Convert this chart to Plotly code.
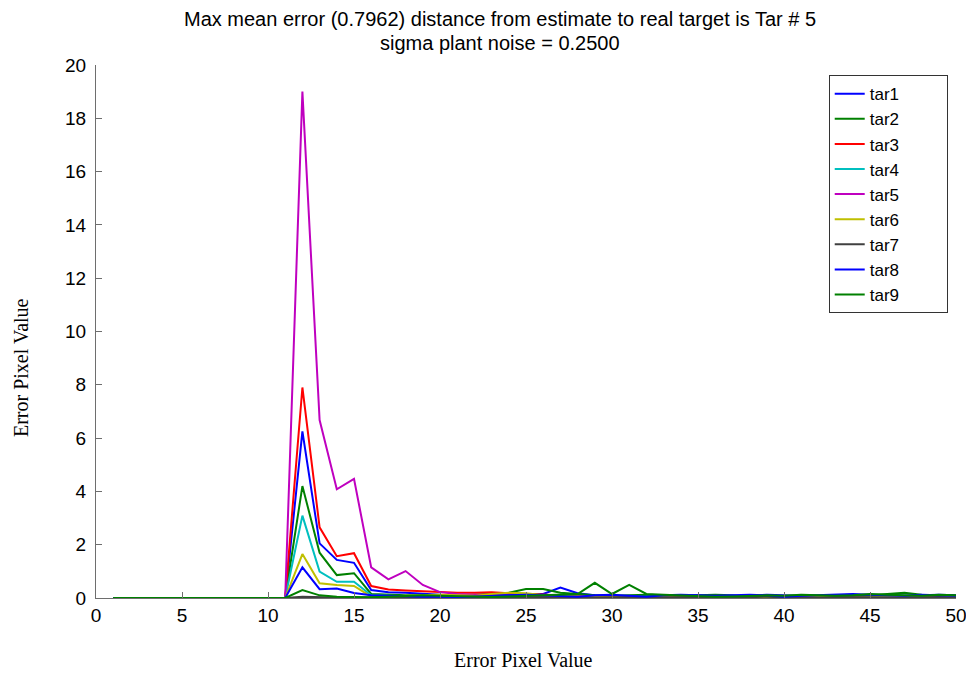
import plotly.graph_objects as go

x_vals = list(range(1, 51))

tar1 = [0, 0, 0, 0, 0, 0, 0, 0, 0, 0, 0,
        6.25, 2.05, 1.43, 1.32, 0.3,
        0.22, 0.2, 0.15, 0.12, 0.1, 0.1, 0.12, 0.15, 0.15, 0.15, 0.39, 0.18, 0.1, 0.08, 0.05, 0.06, 0.08,
        0.1, 0.1, 0.06, 0.05, 0.08, 0.12, 0.1, 0.08, 0.05, 0.08, 0.1, 0.12, 0.1, 0.08, 0.1, 0.12, 0.1]
tar2 = [0, 0, 0, 0, 0, 0, 0, 0, 0, 0, 0,
        4.2, 1.7, 0.86, 0.93, 0.15,
        0.12, 0.1, 0.1, 0.08, 0.1, 0.12, 0.15, 0.2, 0.34, 0.34, 0.2, 0.15, 0.1, 0.08, 0.1, 0.12, 0.1,
        0.08, 0.1, 0.12, 0.1, 0.05, 0.05, 0.08, 0.1, 0.08, 0.1, 0.12, 0.1, 0.15, 0.2, 0.12, 0.1, 0.08]
tar3 = [0, 0, 0, 0, 0, 0, 0, 0, 0, 0, 0,
        7.9, 2.65, 1.57, 1.68, 0.45,
        0.32, 0.28, 0.25, 0.22, 0.2, 0.2, 0.22, 0.18, 0.15, 0.12, 0.1, 0.08, 0.05, 0.05, 0.04, 0.03, 0.05,
        0.04, 0.03, 0.02, 0.05, 0.06, 0.04, 0.03, 0.05, 0.08, 0.06, 0.04, 0.03, 0.05, 0.04, 0.03, 0.02, 0.05]
tar4 = [0, 0, 0, 0, 0, 0, 0, 0, 0, 0, 0,
        3.09, 0.99, 0.61, 0.61, 0.1,
        0.08, 0.06, 0.05, 0.05, 0.04, 0.06, 0.05, 0.03, 0.02, 0.04, 0.05, 0.03, 0.05, 0.02, 0.04, 0.05, 0.03,
        0.02, 0.04, 0.06, 0.05, 0.03, 0.02, 0.04, 0.1, 0.08, 0.05, 0.03, 0.04, 0.05, 0.03, 0.02, 0.04, 0.05]
tar5 = [0, 0, 0, 0, 0, 0, 0, 0, 0, 0, 0,
        19.0, 6.68, 4.08, 4.47, 1.15, 0.7, 1.01, 0.49, 0.22,
        0.15, 0.12, 0.1, 0.08, 0.06, 0.05, 0.04, 0.05, 0.03, 0.04, 0.05, 0.03, 0.02, 0.04, 0.03,
        0.05, 0.06, 0.04, 0.03, 0.05, 0.03, 0.02, 0.04, 0.03, 0.05, 0.04, 0.03, 0.02, 0.04, 0.03]
tar6 = [0, 0, 0, 0, 0, 0, 0, 0, 0, 0, 0,
        1.65, 0.55, 0.49, 0.45, 0.05,
        0.05, 0.08, 0.1, 0.12, 0.1, 0.08, 0.15, 0.2, 0.18, 0.1, 0.08, 0.05, 0.04, 0.03, 0.05, 0.04, 0.03,
        0.02, 0.05, 0.03, 0.04, 0.06, 0.02, 0.03, 0.05, 0.04, 0.03, 0.02, 0.04, 0.06, 0.03, 0.02, 0.04, 0.05]
tar7 = [0, 0, 0, 0, 0, 0, 0, 0, 0, 0, 0,
        0.05, 0.03, 0.02, 0.02, 0.02,
        0.02, 0.03, 0.02, 0.03, 0.02, 0.03, 0.02, 0.04, 0.03, 0.02, 0.03, 0.05, 0.02, 0.03, 0.04, 0.02, 0.03,
        0.02, 0.04, 0.03, 0.02, 0.03, 0.05, 0.02, 0.03, 0.02, 0.04, 0.03, 0.02, 0.03, 0.02, 0.03, 0.04, 0.02]
tar8 = [0, 0, 0, 0, 0, 0, 0, 0, 0, 0, 0,
        1.15, 0.33, 0.36, 0.19, 0.1,
        0.08, 0.06, 0.05, 0.05, 0.04, 0.06, 0.08, 0.1, 0.12, 0.1, 0.08, 0.05, 0.1, 0.12, 0.08, 0.05, 0.1,
        0.12, 0.1, 0.08, 0.1, 0.12, 0.1, 0.05, 0.08, 0.1, 0.12, 0.15, 0.12, 0.1, 0.08, 0.12, 0.1, 0.08]
tar9 = [0, 0, 0, 0, 0, 0, 0, 0, 0, 0, 0,
        0.3, 0.1, 0.05, 0.04, 0.03,
        0.05, 0.08, 0.1, 0.08, 0.06, 0.05, 0.04, 0.06, 0.08, 0.1, 0.12, 0.15, 0.57, 0.15, 0.49, 0.15, 0.12,
        0.1, 0.08, 0.05, 0.06, 0.08, 0.1, 0.08, 0.12, 0.1, 0.08, 0.1, 0.15, 0.12, 0.1, 0.08, 0.12, 0.1]

series_names = ["tar1", "tar2", "tar3", "tar4", "tar5", "tar6", "tar7", "tar8", "tar9"]
series_values = [tar1, tar2, tar3, tar4, tar5, tar6, tar7, tar8, tar9]
colors = ["#0000ff", "#008000", "#ff0000", "#00bfbf", "#bf00bf", "#bfbf00", "#404040", "#0000ff", "#008000"]

x_ticks = [0, 5, 10, 15, 20, 25, 30, 35, 40, 45, 50]
y_ticks = [0, 2, 4, 6, 8, 10, 12, 14, 16, 18, 20]

title_line1 = "Max mean error (0.7962) distance from estimate to real target is Tar # 5"
title_line2 = "sigma plant noise = 0.2500"
x_label = "Error Pixel Value"
y_label = "Error Pixel Value"

SANS = "Liberation Sans, Arial, Helvetica"
SERIF = "Liberation Serif, Times New Roman, serif"
AXIS_GRAY = "#6e6e6e"
PAD = "\u00a0" * 9  # widens the legend box like the reference

fig = go.Figure()
for name, vals, col in zip(series_names, series_values, colors):
    fig.add_trace(go.Scatter(x=x_vals, y=vals, mode="lines", name=name + PAD,
                             line=dict(color=col, width=2)))

# The page body has an 8px margin, so the figure is sized/offset to compensate.
fig.update_layout(
    width=966, height=666,
    margin=dict(l=88, r=18, t=57, b=76, autoexpand=False),
    paper_bgcolor="white", plot_bgcolor="white",
    font=dict(family=SANS, size=19, color="black"),
    legend=dict(x=0.852, y=0.981, xanchor="left", yanchor="top",
                bgcolor="white", bordercolor="#333333", borderwidth=1,
                font=dict(family=SANS, size=17, color="black"),
                tracegroupgap=0),
    showlegend=True,
    annotations=[
        dict(text=title_line1, xref="paper", yref="paper", x=0.47, y=1.0863,
             xanchor="center", yanchor="middle", showarrow=False,
             font=dict(family=SANS, size=20, color="black")),
        dict(text=title_line2, xref="paper", yref="paper", x=0.47, y=1.0413,
             xanchor="center", yanchor="middle", showarrow=False,
             font=dict(family=SANS, size=20, color="black")),
        dict(text=x_label, xref="paper", yref="paper", x=0.497, y=-0.1163,
             xanchor="center", yanchor="middle", showarrow=False,
             font=dict(family=SERIF, size=20, color="black")),
        dict(text=y_label, xref="paper", yref="paper", x=-0.0872, y=0.4315,
             xanchor="center", yanchor="middle", showarrow=False, textangle=-90,
             font=dict(family=SERIF, size=20, color="black")),
    ],
)
fig.update_xaxes(range=[0, 50], tickvals=x_ticks, ticks="inside", ticklen=6,
                 tickcolor=AXIS_GRAY, showline=True, linecolor=AXIS_GRAY, linewidth=1,
                 showgrid=False, zeroline=False, automargin=False,
                 tickfont=dict(family=SANS, size=19, color="black"))
fig.update_yaxes(range=[0, 20], tickvals=y_ticks, ticks="inside", ticklen=6,
                 tickcolor=AXIS_GRAY, showline=True, linecolor=AXIS_GRAY, linewidth=1,
                 showgrid=False, zeroline=False, automargin=False, ticklabelstandoff=5,
                 tickfont=dict(family=SANS, size=19, color="black"))

fig.write_html("out.html")
